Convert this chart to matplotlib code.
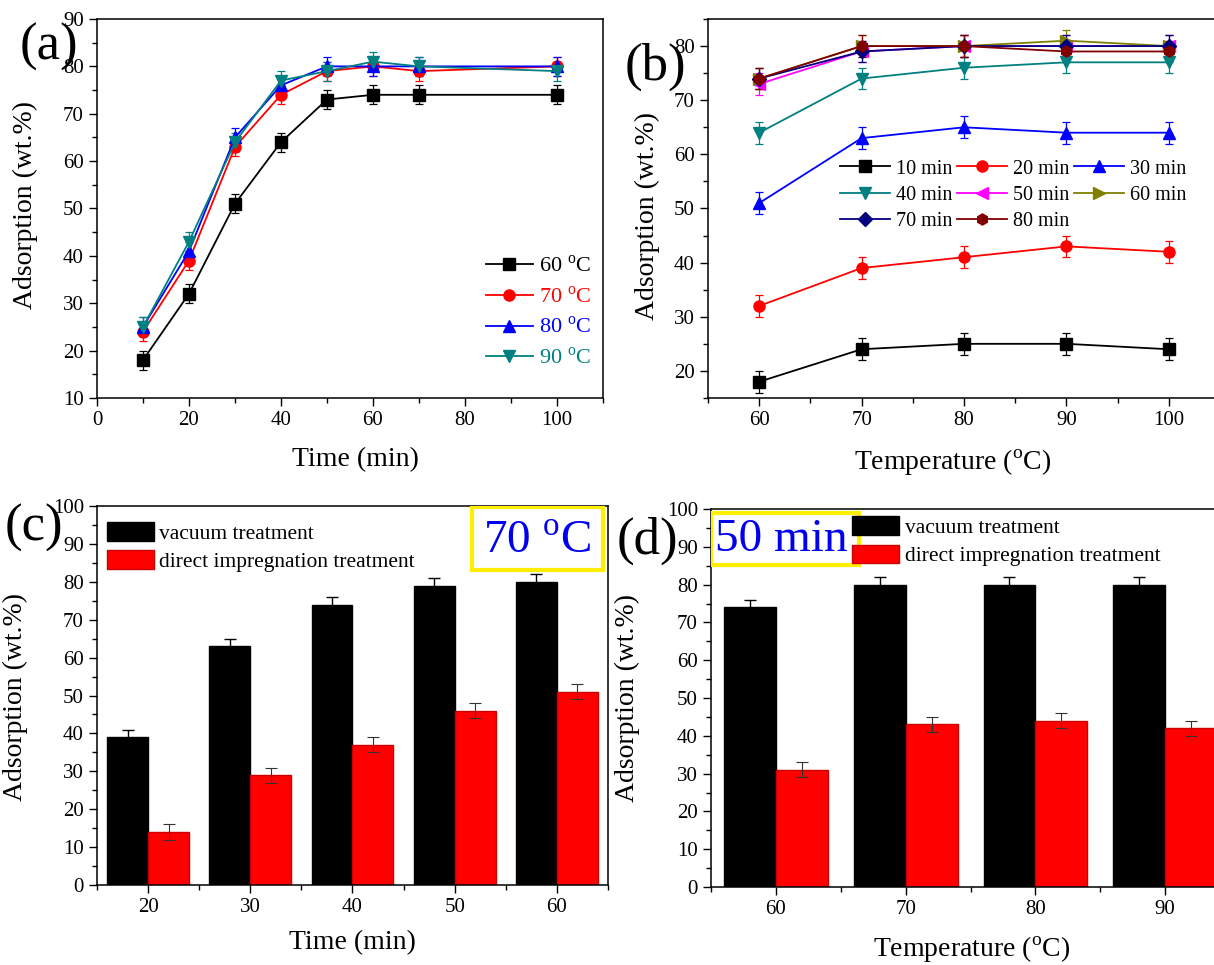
import numpy as np
import matplotlib
matplotlib.use("Agg")
import matplotlib.pyplot as plt
from matplotlib.patches import Rectangle
from matplotlib.ticker import MultipleLocator

plt.rcParams['font.family'] = ['Liberation Serif', 'DejaVu Serif']
plt.rcParams['mathtext.fontset'] = 'custom'
plt.rcParams['mathtext.rm'] = 'Liberation Serif'
plt.rcParams['xtick.direction'] = 'out'
plt.rcParams['ytick.direction'] = 'out'

# (a) adsorption vs time at four temperatures
time_a = [10, 20, 30, 40, 50, 60, 70, 100]
temp_labels = ['60 $^{\\rm o}$C', '70 $^{\\rm o}$C', '80 $^{\\rm o}$C', '90 $^{\\rm o}$C']
ads_60 = [18, 32, 51, 64, 73, 74, 74, 74]
ads_70 = [24, 39, 63, 74, 79, 80, 79, 80]
ads_80 = [25, 41, 65, 76, 80, 80, 80, 80]
ads_90 = [25, 43, 64, 77, 79, 81, 80, 79]
err_a = 2

# (b) adsorption vs temperature at eight times
temp_b = [60, 70, 80, 90, 100]
time_labels = ['10 min', '20 min', '30 min', '40 min', '50 min', '60 min', '70 min', '80 min']
ads_10m = [18, 24, 25, 25, 24]
ads_20m = [32, 39, 41, 43, 42]
ads_30m = [51, 63, 65, 64, 64]
ads_40m = [64, 74, 76, 77, 77]
ads_50m = [73, 79, 80, 80, 80]
ads_60m = [74, 80, 80, 81, 80]
ads_70m = [74, 79, 80, 80, 80]
ads_80m = [74, 80, 80, 79, 79]
err_b = 2

# (c) vacuum vs direct impregnation at 70 C
time_c = ['20', '30', '40', '50', '60']
vacuum_c = [39, 63, 74, 79, 80]
direct_c = [14, 29, 37, 46, 51]

# (d) vacuum vs direct impregnation at 50 min
temp_d = ['60', '70', '80', '90']
vacuum_d = [74, 80, 80, 80]
direct_d = [31, 43, 44, 42]
err_bar = 2

bar_labels = ['vacuum treatment', 'direct impregnation treatment']

fig = plt.figure(figsize=(12.14, 9.65), dpi=100)
ax_a = fig.add_axes([0.0799, 0.5876, 0.4168, 0.3927])
ax_b = fig.add_axes([0.5832, 0.5876, 0.4217, 0.3927])
ax_c = fig.add_axes([0.0799, 0.0829, 0.4209, 0.3927])
ax_d = fig.add_axes([0.5857, 0.0808, 0.4275, 0.3917])

for ax in (ax_a, ax_b, ax_c, ax_d):
    ax.tick_params(which='major', length=6, width=1.0, labelsize=15)
    ax.tick_params(which='minor', length=3.5, width=1.0)
    for s in ax.spines.values():
        s.set_linewidth(1.1)

# ---- panel (a)
cols_a = ['black', 'red', 'blue', '#008080']
marks_a = ['s', 'o', '^', 'v']
lines_a = []
for ys, c, m, lab in zip([ads_60, ads_70, ads_80, ads_90], cols_a, marks_a, temp_labels):
    eb = ax_a.errorbar(time_a, ys, yerr=err_a, color=c, marker=m, markersize=8, lw=1.3,
                       ecolor=c, elinewidth=0.9, capsize=3, capthick=0.9, label=lab)
    lines_a.append(eb[0])
ax_a.set_xlim(0, 110)
ax_a.set_ylim(10, 90)
ax_a.xaxis.set_major_locator(MultipleLocator(20))
ax_a.xaxis.set_minor_locator(MultipleLocator(10))
ax_a.yaxis.set_major_locator(MultipleLocator(10))
ax_a.yaxis.set_minor_locator(MultipleLocator(5))
ax_a.set_xlabel('Time (min)', fontsize=20)
ax_a.set_ylabel('Adsorption (wt.%)', fontsize=20)
ax_a.xaxis.set_label_coords(0.51, -0.13)
ax_a.yaxis.set_label_coords(-0.117, 0.51)
leg = ax_a.legend(lines_a, temp_labels, loc='upper left', bbox_to_anchor=(0.747, 0.405),
                  frameon=False, fontsize=16, borderpad=0, handlelength=2.1,
                  handletextpad=0.27, labelspacing=0.42)
for t, c in zip(leg.get_texts(), cols_a):
    t.set_color(c)

# ---- panel (b)
cols_b = ['black', 'red', 'blue', '#008080', 'magenta', '#808000', '#000080', '#800000']
marks_b = ['s', 'o', '^', 'v', '<', '>', 'D', 'h']
series_b = [ads_10m, ads_20m, ads_30m, ads_40m, ads_50m, ads_60m, ads_70m, ads_80m]
handles = []
for ys, c, m, lab in zip(series_b, cols_b, marks_b, time_labels):
    ms = 7 if m == 'D' else 8
    eb = ax_b.errorbar(temp_b, ys, yerr=err_b, color=c, marker=m, markersize=ms, lw=1.3,
                       ecolor=c, elinewidth=0.9, capsize=3, capthick=0.9, label=lab)
    handles.append(eb[0])
ax_b.set_xlim(55, 105)
ax_b.set_ylim(15, 85)
ax_b.xaxis.set_major_locator(MultipleLocator(10))
ax_b.xaxis.set_minor_locator(MultipleLocator(5))
ax_b.yaxis.set_major_locator(MultipleLocator(10))
ax_b.yaxis.set_minor_locator(MultipleLocator(5))
ax_b.set_xlabel('Temperature ($^{\\rm o}$C)', fontsize=20)
ax_b.set_ylabel('Adsorption (wt.%)', fontsize=20)
ax_b.xaxis.set_label_coords(0.478, -0.13)
ax_b.yaxis.set_label_coords(-0.094, 0.48)
order = [0, 3, 6, 1, 4, 7, 2, 5]
ax_b.legend([handles[i] for i in order], [time_labels[i] for i in order],
            loc='upper left', bbox_to_anchor=(0.238, 0.656), ncol=3, frameon=False,
            fontsize=14.5, borderpad=0, handlelength=2.5, handletextpad=0.3,
            labelspacing=0.35, columnspacing=0.2)

# ---- bar panels
def bar_panel(ax, cats, vac, dire, leg_anchor):
    x = np.arange(len(cats))
    w = 0.4
    ax.bar(x - w / 2, vac, w, color='black', edgecolor='black', label=bar_labels[0],
           yerr=err_bar, error_kw=dict(ecolor='black', elinewidth=1, capsize=4, capthick=1))
    ax.bar(x + w / 2, dire, w, color='#ff0000', edgecolor='#cc0000', label=bar_labels[1],
           yerr=err_bar, error_kw=dict(ecolor='#333333', elinewidth=0.8, capsize=4, capthick=0.8))
    ax.set_xlim(-0.5, len(cats) - 0.5)
    ax.set_ylim(0, 100)
    ax.set_xticks(x)
    ax.set_xticklabels(cats)
    ax.set_xticks(np.arange(len(cats) + 1) - 0.5, minor=True)
    ax.yaxis.set_major_locator(MultipleLocator(10))
    ax.yaxis.set_minor_locator(MultipleLocator(5))
    ax.set_ylabel('Adsorption (wt.%)', fontsize=20)
    ax.legend(loc='upper left', bbox_to_anchor=leg_anchor, frameon=False, fontsize=15.5,
              borderpad=0, handlelength=2.2, handleheight=0.95, handletextpad=0.25,
              labelspacing=0.3)

bar_panel(ax_c, time_c, vacuum_c, direct_c, (-0.002, 0.986))
ax_c.set_xlabel('Time (min)', fontsize=20)
ax_c.xaxis.set_label_coords(0.5, -0.12)
ax_c.yaxis.set_label_coords(-0.135, 0.496)
ax_c.add_patch(Rectangle((0.734, 0.831), 0.256, 0.166, transform=ax_c.transAxes,
                         fill=False, edgecolor='#ffee00', lw=3, zorder=5))
ax_c.text(0.862, 0.905, '70 $^{\\rm o}$C', transform=ax_c.transAxes, color='#0000ee',
          fontsize=34, ha='center', va='center', zorder=6)

bar_panel(ax_d, temp_d, vacuum_d, direct_d, (0.251, 1.009))
ax_d.set_xlabel('Temperature ($^{\\rm o}$C)', fontsize=20)
ax_d.xaxis.set_label_coords(0.503, -0.125)
ax_d.yaxis.set_label_coords(-0.137, 0.5)
ax_d.add_patch(Rectangle((0.0, 0.852), 0.285, 0.137, transform=ax_d.transAxes,
                         fill=False, edgecolor='#ffee00', lw=3, zorder=5))
ax_d.text(0.008, 0.918, '50 min', transform=ax_d.transAxes, color='#0000ee',
          fontsize=34, ha='left', va='center', zorder=6)

# panel letters
fig.text(0.040, 0.951, '(a)', fontsize=38, ha='center', va='center')
fig.text(0.540, 0.931, '(b)', fontsize=38, ha='center', va='center')
fig.text(0.028, 0.453, '(c)', fontsize=38, ha='center', va='center')
fig.text(0.533, 0.440, '(d)', fontsize=38, ha='center', va='center')

fig.savefig('out.png', dpi=100)
